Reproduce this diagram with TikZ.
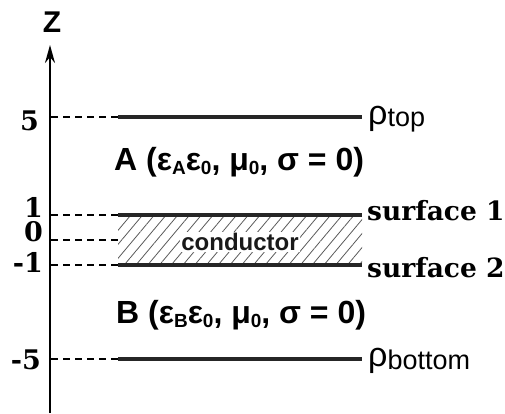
\documentclass[tikz,border=0pt]{standalone}
\usepackage{fontspec}
\setmainfont{Liberation Sans}
\newfontfamily\serifface{DejaVu Serif}
\usetikzlibrary{arrows.meta,patterns.meta}
\newcommand{\lowsub}[1]{\raisebox{-0.25ex}{\fontsize{19}{19}\selectfont #1}}
\newcommand{\lowsubs}[1]{\raisebox{-0.15ex}{\fontsize{27}{27}\selectfont #1}}
\tikzset{
  dashline/.style={line width=1.1pt, dash pattern=on 7pt off 5pt},
  slab/.style={line width=3.2pt, black!85},
  ticklab/.style={anchor=east, inner sep=0pt, font=\serifface\bfseries\fontsize{27}{27}\selectfont},
  reglab/.style={anchor=west, inner sep=0pt, font=\bfseries\fontsize{32}{32}\selectfont},
  rholab/.style={anchor=west, inner sep=0pt, font=\fontsize{34}{34}\selectfont},
  surflab/.style={anchor=base west, inner sep=0pt, font=\serifface\bfseries\fontsize{26.5}{26.5}\selectfont},
}
\begin{document}
\begin{tikzpicture}[x=1pt,y=-1pt]
\useasboundingbox (0,0) rectangle (505,413);
% axis
\coordinate (axbot) at (50,413);
\coordinate (axtop) at (50,45);
\draw[line width=2pt, -{Stealth[length=18pt,width=10pt]}] (axbot) -- (axtop);
\node[inner sep=0pt, font=\bfseries\fontsize{30}{30}\selectfont] (zlab) at (52,22) {Z};
% level coordinates
\foreach \n/\y in {p5/117, p1/215, p0/240, m1/265, m5/359}{
  \coordinate (ax\n) at (51,\y);
  \coordinate (l\n) at (118,\y);
  \coordinate (r\n) at (362,\y);
}
% conductor slab
\fill[pattern={Lines[angle=50,distance=9pt,line width=0.8pt]}, pattern color=black!65] (lp1) rectangle (rm1);
\node[inner sep=1pt, fill=white, font=\bfseries\fontsize{24}{24}\selectfont, text=black!90] (cond) at (240,242) {conductor};
% dashed connectors
\foreach \n in {p5,p1,p0,m1,m5}{
  \draw[dashline] (ax\n) -- (l\n);
}
% solid lines
\foreach \n in {p5,p1,m1,m5}{
  \draw[slab] (l\n) -- (r\n);
}
% tick labels
\node[ticklab] (t5) at (39,121) {5};
\node[ticklab] (t1) at (43,207) {1};
\node[ticklab] (t0) at (43,232) {0};
\node[ticklab] (tm1) at (43,262) {-1};
\node[ticklab] (tm5) at (41,360) {-5};
% right labels
\node[rholab] (ptop) at (368,119) {ρ\lowsubs{top}};
\node[rholab] (pbot) at (368,361) {ρ\lowsubs{bottom}};
\node[surflab] (s1) at (367,220) {surface 1};
\node[surflab] (s2) at (367,277) {surface 2};
% region labels
\node[reglab] (regA) at (114,162) {A (ε\lowsub{A}ε\lowsub{0}, μ\lowsub{0}, σ = 0)};
\node[reglab] (regB) at (116,315) {B (ε\lowsub{B}ε\lowsub{0}, μ\lowsub{0}, σ = 0)};
\end{tikzpicture}
\end{document}
